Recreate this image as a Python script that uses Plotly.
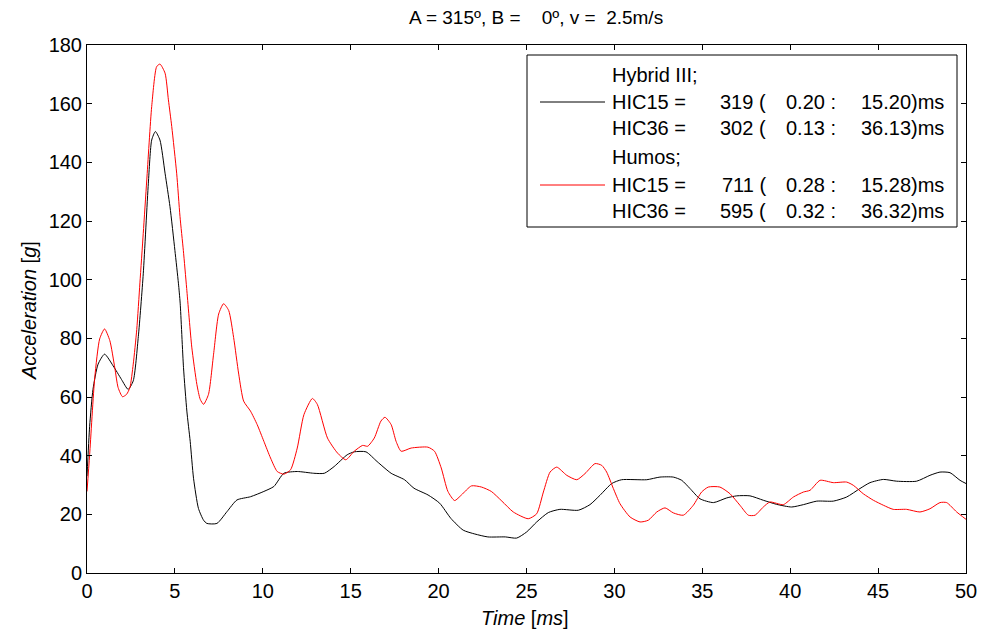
import plotly.graph_objects as go

# Head acceleration traces (time in ms, acceleration in g)
hybrid_t = [0, 0.15, 0.34, 0.63, 1.0, 1.49, 1.96, 2.34, 2.63, 2.92, 3.2, 3.49, 3.68, 3.89,
            4.15, 4.44, 4.72, 5.0, 5.2, 5.3, 5.49, 5.68, 5.87, 6.06, 6.34, 6.63, 6.82, 7.39,
            7.96, 8.53, 9.3, 10.06, 10.63, 11.2, 11.96, 12.9, 13.5, 14.06, 14.8, 15.2, 15.87,
            16.5, 17.3, 18.06, 18.6, 19.4, 20.06, 20.7, 21.4, 22.06, 22.8, 23.8, 24.44, 25.01,
            25.58, 26.24, 26.9, 27.95, 28.61, 29.18, 29.85, 30.41, 31.84, 32.59, 33.35, 33.83,
            34.3, 34.87, 35.63, 36.39, 36.96, 37.71, 38.47, 39.23, 40.08, 40.75, 41.51, 42.45,
            43.21, 43.97, 44.54, 45.3, 46.06, 47.19, 47.95, 48.52, 49.09, 49.66, 50]
hybrid_a = [33, 50, 62.6, 71.2, 74.6, 70.6, 66, 62.6, 65.5, 80.6, 102, 132.9, 147.6, 150.5,
            147.6, 136.3, 124.9, 110, 98.8, 92, 70, 55.2, 44.9, 32.3, 22, 18, 16.9, 16.9,
            20.9, 24.9, 26, 27.8, 29.5, 34, 34.6, 34, 34, 36.3, 40.3, 41.3, 41.3,
            38, 34, 31.8, 28.9, 26.6, 23.8, 18.6, 14.6, 13.3, 12.3, 12.3, 11.9, 14,
            17.4, 20.6, 21.7, 21.4, 23.3, 26.5, 30.5, 31.8, 31.8, 32.7, 32.7, 31.6,
            28.8, 25.3, 24, 25.6, 26.3, 26.3, 24.8, 23.4, 22.5, 23.3, 24.5, 24.5,
            25.9, 28.8, 30.8, 31.9, 31.3, 31.3, 33.3, 34.4, 34.2, 31.6, 30.5]

humos_t = [0, 0.15, 0.44, 0.72, 1.0, 1.3, 1.58, 1.77, 2.02, 2.25, 2.44, 2.63, 2.83, 3.01, 3.2,
           3.4, 3.68, 3.96, 4.15, 4.44, 4.63, 4.82, 5.1, 5.29, 5.48, 5.67, 5.96, 6.25, 6.44,
           6.63, 6.91, 7.2, 7.49, 7.77, 8.06, 8.34, 8.63, 8.91, 9.3, 9.68, 10.06, 10.44, 10.82,
           11.2, 11.58, 11.96, 12.34, 12.82, 13.1, 13.68, 14.25, 14.72, 15.2, 15.68, 15.96,
           16.34, 16.72, 16.95, 17.3, 17.58, 17.87, 18.44, 19.39, 19.77, 20.15, 20.53, 20.91,
           21.3, 21.87, 22.44, 23.0, 23.6, 24.25, 25.1, 25.58, 25.96, 26.34, 26.72, 27.29,
           27.86, 28.33, 28.9, 29.28, 29.56, 29.94, 30.32, 30.89, 31.46, 31.93, 32.41, 32.88,
           33.35, 33.92, 34.49, 34.96, 35.34, 36.0, 36.58, 37.14, 37.62, 38.0, 38.47, 38.85,
           39.61, 40.18, 40.75, 41.13, 41.7, 42.45, 43.21, 43.59, 44.16, 44.73, 45.3, 45.86,
           46.62, 47.38, 47.95, 48.52, 48.9, 49.47, 50]
humos_a = [27.8, 40.3, 66.6, 79.8, 83.2, 79.2, 70, 63.2, 60.1, 60.9, 63.2, 71.2, 83, 98.9, 115.8,
           134, 159, 172.6, 173.5, 170.4, 161.3, 152.2, 136.3, 121.5, 110, 97, 77, 64.3, 59.2,
           57.5, 60.9, 74.6, 88.3, 91.8, 89.5, 80.3, 67.8, 58.6, 55.2, 50.6, 44.9, 39.2, 34.6,
           33.7, 35.2, 42.6, 54, 59.5, 57.5, 46, 40.9, 38.6, 41.5, 43.5, 43.2,
           46, 51.8, 53.1, 50.6, 44.9, 41.5, 42.6, 42.9, 41.5, 35.8, 27.8, 24.7,
           26.6, 29.7, 29.3, 27.8, 24.5, 20.8, 18.5, 20.2, 27.6, 34.4, 36.1, 33.3,
           31.8, 33.9, 37.3, 36.7, 34.4, 28.8, 23.6, 19.1, 17.4, 18, 20.8, 22.2,
           20.5, 19.7, 23.1, 27.6, 29.3, 29.3, 27, 23.1, 19.7, 19.7, 22.5, 24.2,
           23.3, 25.9, 27.6, 28.2, 31.6, 30.8, 31, 29.9, 27, 24.8, 23.1, 21.7,
           21.7, 20.8, 21.9, 24, 24, 20.8, 18.3]

# HIC results per model: value, window start, window end
models = ["Hybrid III", "Humos"]
colors = ["black", "red"]
hic15 = [319, 711]
hic15_t1 = [0.20, 0.28]
hic15_t2 = [15.20, 15.28]
hic36 = [302, 595]
hic36_t1 = [0.13, 0.32]
hic36_t2 = [36.13, 36.32]

x_ticks = list(range(0, 51, 5))
y_ticks = list(range(0, 181, 20))

FONT = "Liberation Sans, Arial, sans-serif"
FS = 20
W, H = 982, 630
ML, MR, MT, MB = 87, 16, 45, 57
PW, PH = W - ML - MR, H - MT - MB


def px(x):
    return (x - ML) / PW


def py(y):
    return (H - MB - y) / PH


def txt(**kw):
    kw.setdefault("font", dict(family=FONT, size=FS, color="black"))
    return dict(xref="paper", yref="paper", showarrow=False, **kw)


fig = go.Figure()
fig.add_trace(go.Scatter(x=hybrid_t, y=hybrid_a, mode="lines",
                         line=dict(color=colors[0], width=1, shape="spline", smoothing=0.6),
                         showlegend=False))
fig.add_trace(go.Scatter(x=humos_t, y=humos_a, mode="lines",
                         line=dict(color=colors[1], width=1, shape="spline", smoothing=0.6),
                         showlegend=False))

axis_common = dict(showline=True, linecolor="black", linewidth=1, mirror="ticks",
                   ticks="inside", ticklen=5, tickcolor="black", showgrid=False,
                   zeroline=False, automargin=False,
                   tickfont=dict(family=FONT, size=FS, color="black"))

fig.update_xaxes(range=[0, 50], tickvals=x_ticks, ticktext=[str(v) for v in x_ticks], **axis_common)
fig.update_yaxes(range=[0, 180], tickvals=y_ticks, ticktext=[str(v) for v in y_ticks], **axis_common)

shapes = [dict(type="rect", xref="paper", yref="paper", x0=px(527), x1=px(957), y0=py(227), y1=py(55),
               line=dict(color="black", width=1), fillcolor="white", layer="above")]

annotations = [
    txt(x=px(525), y=py(618), text="<i>Time</i> [<i>ms</i>]", xanchor="center", yanchor="middle"),
    txt(x=px(29), y=py(310), text="<i>Acceleration</i> [<i>g</i>]", textangle=-90,
        xanchor="center", yanchor="middle"),
]

rows = [(75, 102, 128), (157, 185, 211)]
for i, name in enumerate(models):
    r_name, r15, r36 = rows[i]
    shapes.append(dict(type="line", xref="paper", yref="paper", x0=px(540), x1=px(605),
                       y0=py(r15), y1=py(r15), line=dict(color=colors[i], width=1), layer="above"))
    annotations.append(txt(x=px(610), y=py(r_name), text=name + ";", xanchor="left", yanchor="middle"))
    for yrow, label, val, t1, t2 in [(r15, "HIC15 =", hic15[i], hic15_t1[i], hic15_t2[i]),
                                     (r36, "HIC36 =", hic36[i], hic36_t1[i], hic36_t2[i])]:
        annotations.append(txt(x=px(610), y=py(yrow), text=label, xanchor="left", yanchor="middle"))
        annotations.append(txt(x=px(768), y=py(yrow), text=f"{val} (", xanchor="right", yanchor="middle"))
        annotations.append(txt(x=px(838), y=py(yrow), text=f"{t1:.2f} :", xanchor="right", yanchor="middle"))
        annotations.append(txt(x=px(946), y=py(yrow), text=f"{t2:.2f})ms", xanchor="right", yanchor="middle"))

fig.update_layout(
    width=W, height=H,
    margin=dict(l=ML, r=MR, t=MT, b=MB),
    paper_bgcolor="white", plot_bgcolor="white",
    title=dict(text="A = 315º, B = &nbsp; &nbsp;0º, v = &nbsp;2.5m/s",
               xref="paper", x=px(409), xanchor="left", y=1 - 17 / H, yanchor="middle",
               font=dict(family=FONT, size=19, color="black")),
    shapes=shapes, annotations=annotations,
)

fig.write_html("out.html")
